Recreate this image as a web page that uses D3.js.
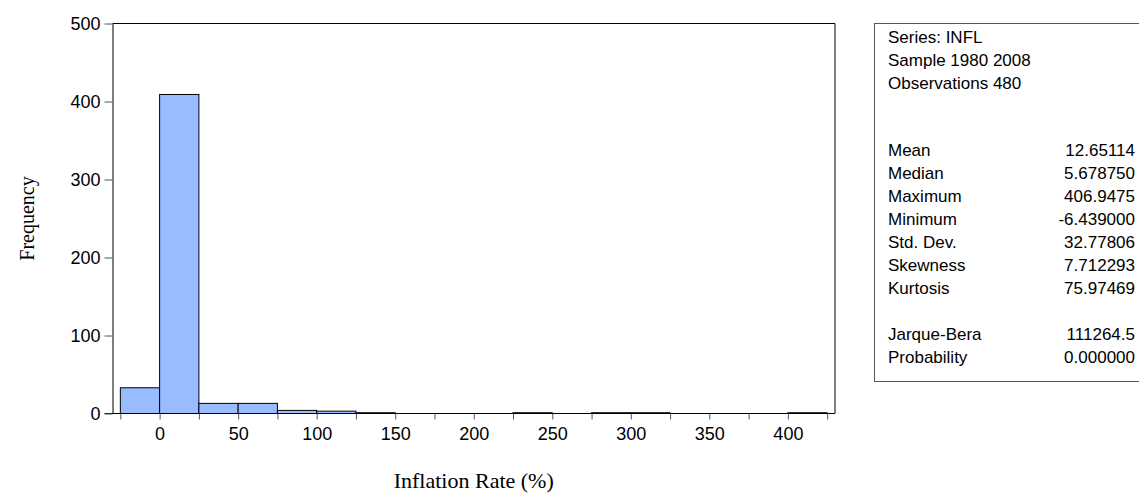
<!DOCTYPE html>
<html>
<head>
<meta charset="utf-8">
<script src="https://cdn.jsdelivr.net/npm/d3@7"></script>
<style>
  body { margin: 0; background: #fff; }
  svg { display: block; }
</style>
</head>
<body>
<svg id="chart" width="1139" height="497"></svg>
<script>
// histogram bins (lower edge, width 25) and counts
const binLow = [-25, 0, 25, 50, 75, 100, 125, 225, 275, 300, 400];
const binCounts = [33, 409, 13, 13, 4, 3, 1, 1, 1, 1, 1];
const binWidth = 25;

const xTicks = [-25, 0, 25, 50, 75, 100, 125, 150, 175, 200, 225, 250, 275, 300, 325, 350, 375, 400, 425];
const xTickLabels = [0, 50, 100, 150, 200, 250, 300, 350, 400];
const yTicks = [0, 100, 200, 300, 400, 500];

// descriptive statistics panel
const headerLines = ['Series: INFL', 'Sample 1980 2008', 'Observations 480'];
const statNames = ['Mean', 'Median', 'Maximum', 'Minimum', 'Std. Dev.', 'Skewness', 'Kurtosis'];
const statValues = ['12.65114', '5.678750', '406.9475', '-6.439000', '32.77806', '7.712293', '75.97469'];
const testNames = ['Jarque-Bera', 'Probability'];
const testValues = ['111264.5', '0.000000'];

const svg = d3.select('#chart');
const plot = { left: 112.5, right: 835, top: 23.5, bottom: 413.5 };

const x = d3.scaleLinear().domain([-30, 430]).range([plot.left, plot.right]);
const y = d3.scaleLinear().domain([0, 500]).range([plot.bottom, plot.top]);

const sans = 'Arial, "Liberation Sans", sans-serif';
const serif = '"Times New Roman", "Liberation Serif", serif';

// bars
svg.append('g')
  .selectAll('rect')
  .data(binLow.map((lo, i) => ({ lo, n: binCounts[i] })))
  .join('rect')
  .attr('x', d => x(d.lo))
  .attr('y', d => y(d.n))
  .attr('width', d => x(d.lo + binWidth) - x(d.lo))
  .attr('height', d => y(0) - y(d.n))
  .attr('fill', '#99bbff')
  .attr('stroke', '#000')
  .attr('stroke-width', 1);

// frame (top + right)
svg.append('path')
  .attr('d', `M${plot.left},${plot.top}H${plot.right}V${plot.bottom}`)
  .attr('fill', 'none')
  .attr('stroke', '#000');

// x axis
const xAxis = d3.axisBottom(x)
  .tickValues(xTicks)
  .tickSizeInner(6)
  .tickSizeOuter(0)
  .tickPadding(8)
  .tickFormat(d => xTickLabels.includes(d) ? d : '');

const gx = svg.append('g')
  .attr('transform', `translate(0,${plot.bottom})`)
  .call(xAxis);
gx.select('.domain').remove();
gx.selectAll('.tick line').attr('stroke', '#555');
gx.selectAll('text')
  .attr('fill', '#000')
  .style('font-family', sans)
  .style('font-size', '18px');
svg.append('line')
  .attr('x1', plot.left - 8).attr('x2', plot.right)
  .attr('y1', plot.bottom).attr('y2', plot.bottom)
  .attr('stroke', '#000');

// y axis
const yAxis = d3.axisLeft(y)
  .tickValues(yTicks)
  .tickSizeInner(8)
  .tickSizeOuter(0)
  .tickPadding(4);

const gy = svg.append('g')
  .attr('transform', `translate(${plot.left},0)`)
  .call(yAxis);
gy.select('.domain').attr('stroke', '#000');
gy.selectAll('.tick line').attr('stroke', '#555');
gy.selectAll('text')
  .attr('fill', '#000')
  .style('font-family', sans)
  .style('font-size', '18px');

// axis titles
svg.append('text')
  .attr('transform', `translate(29,${(plot.top + plot.bottom) / 2}) rotate(-90)`)
  .attr('text-anchor', 'middle')
  .attr('dominant-baseline', 'middle')
  .style('font-family', serif)
  .style('font-size', '20px')
  .text('Frequency');

svg.append('text')
  .attr('x', (plot.left + plot.right) / 2)
  .attr('y', 483)
  .attr('text-anchor', 'middle')
  .attr('dominant-baseline', 'middle')
  .style('font-family', serif)
  .style('font-size', '22px')
  .text('Inflation Rate (%)');

// statistics box
const box = { left: 874.5, top: 23.5, bottom: 381.5 };
const lineH = 23;
const textX = 888;
const valueX = 1135;

svg.append('rect')
  .attr('x', box.left).attr('y', box.top)
  .attr('width', 300).attr('height', box.bottom - box.top)
  .attr('fill', '#fff')
  .attr('stroke', '#555');

const stats = svg.append('g')
  .style('font-family', sans)
  .style('font-size', '17px')
  .attr('fill', '#000');

function addRows(names, values, y0) {
  names.forEach((name, i) => {
    stats.append('text')
      .attr('x', textX).attr('y', y0 + i * lineH)
      .attr('dominant-baseline', 'middle')
      .text(name);
    if (values) {
      stats.append('text')
        .attr('x', valueX).attr('y', y0 + i * lineH)
        .attr('text-anchor', 'end')
        .attr('dominant-baseline', 'middle')
        .text(values[i]);
    }
  });
}

addRows(headerLines, null, 39);
addRows(statNames, statValues, 152);
addRows(testNames, testValues, 336);
</script>
</body>
</html>
